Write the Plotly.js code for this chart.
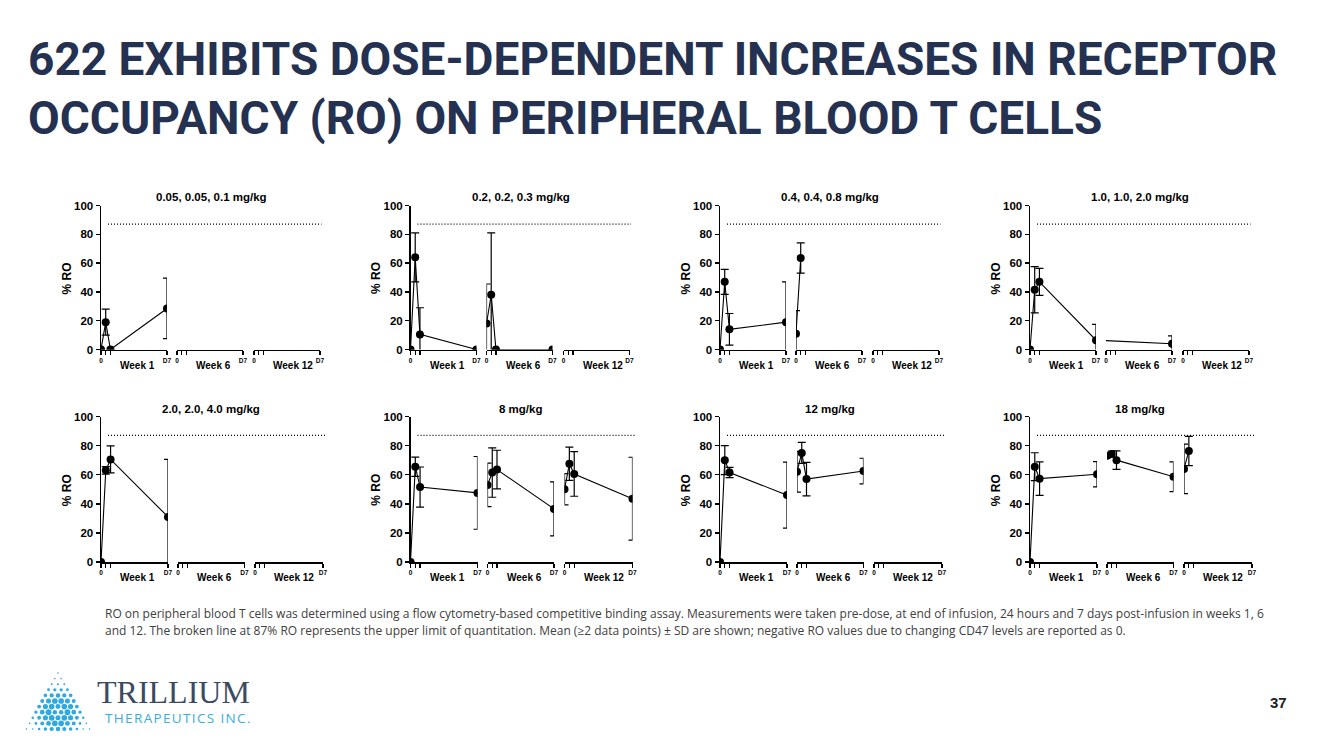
<!DOCTYPE html>
<html>
<head>
<meta charset="utf-8">
<script src="https://cdn.plot.ly/plotly-3.0.1.min.js"></script>
<style>html,body{margin:0;padding:0;background:#fff;}#chart{width:1333px;height:750px;}</style>
</head>
<body>
<div id="chart"></div>
<script>
// ---------------- DATA ----------------
const doseLabels = ['0.05, 0.05, 0.1 mg/kg', '0.2, 0.2, 0.3 mg/kg', '0.4, 0.4, 0.8 mg/kg', '1.0, 1.0, 2.0 mg/kg',
                    '2.0, 2.0, 4.0 mg/kg', '8 mg/kg', '12 mg/kg', '18 mg/kg'];
const weekLabels = ['Week 1', 'Week 6', 'Week 12'];
const sampleDays = [0, 0.5, 1, 7];          // pre-dose, end of infusion, 24 h, day 7
const dayTickText = ['0', '', '', 'D7'];
const yTicks = [0, 20, 40, 60, 80, 100];
const uloq = 87;                            // upper limit of quantitation (% RO)

// mean % RO; order: W1 (pre, EOI, 24h, D7), W6 (...), W12 (...)
const ro_005 = [0, 19, 0, 28.5,   null, null, null, null,   null, null, null, null];
const sd_005 = [0, 9, 0, 21,      0, 0, 0, 0,               0, 0, 0, 0];
const ro_02  = [0, 64, 10.5, 0,   18, 38, 0, 0,             null, null, null, null];
const sd_02  = [0, 17, 18.5, 0,   27.5, 43, 0, 0,           0, 0, 0, 0];
const ro_04  = [0, 47, 14, 19,    11, 63.5, null, null,     null, null, null, null];
const sd_04  = [0, 8.7, 11, 28,   16, 10.5, 0, 0,           0, 0, 0, 0];
const ro_1   = [0, 41.5, 47, 6.5, null, null, null, 4,      null, null, null, null];
const sd_1   = [0, 16, 9.4, 11,   0, 0, 0, 5.5,             0, 0, 0, 0];
const ro_2   = [0, 63, 70.5, 31,  null, null, null, null,   null, null, null, null];
const sd_2   = [0, 2.6, 9.3, 39.5, 0, 0, 0, 0,              0, 0, 0, 0];
const ro_8   = [0, 65.5, 51.5, 47.5, 53, 61.5, 63.5, 36.5,  50, 67.5, 60.5, 43.5];
const sd_8   = [0, 6.6, 13.8, 25,    15, 17, 13.3, 18.6,    10.7, 11.4, 15.3, 28.5];
const ro_12  = [0, 70, 61.5, 46,  62, 75, 57, 62.5,         null, null, null, null];
const sd_12  = [0, 10, 3.5, 22.7, 14, 7.2, 11.5, 8.8,       0, 0, 0, 0];
const ro_18  = [0, 65.5, 57.3, 60.3, 73, 74.3, 70, 58.6,    64, 76.3, null, null];
const sd_18  = [0, 9.6, 11.5, 8.7,   1.5, 2, 6.4, 10.2,     17, 10, 0, 0];

const meanSeries = [ro_005, ro_02, ro_04, ro_1, ro_2, ro_8, ro_12, ro_18];
const sdSeries   = [sd_005, sd_02, sd_04, sd_1, sd_2, sd_8, sd_12, sd_18];

// ---------------- LAYOUT GEOMETRY (px) ----------------
const W = 1333, H = 750;
const colX = [101, 410.5, 720, 1030];
const rowY = [[205.5, 349.5], [416.5, 562]];       // [y at 100, y at 0]
const segRel = [[[0, 66], [76, 142], [153, 219]],
                [[0, 67], [77, 143.5], [154, 222]]];
const ulLineRel = [[7, 220.5], [7, 226]];
const titleY = [197, 409];
const FONT = 'Liberation Sans, Arial, sans-serif';
const px = v => v / W;
const py = v => 1 - v / H;

const traces = [];
const layout = {
  width: W, height: H,
  margin: {l: 0, r: 0, t: 0, b: 0},
  paper_bgcolor: '#fff', plot_bgcolor: 'rgba(0,0,0,0)',
  showlegend: false,
  font: {family: FONT, color: '#000'},
  shapes: [], annotations: []
};

for (let p = 0; p < 8; p++) {
  const row = Math.floor(p / 4), col = p % 4;
  const x0 = colX[col];
  const segs = segRel[row];
  const mean = meanSeries[p], sd = sdSeries[p];
  const yName = 'y' + (p + 1);
  // collect measured points (screen-space position along panel)
  const pts = [];
  for (let s = 0; s < 3; s++) {
    const w = segs[s][1] - segs[s][0];
    for (let k = 0; k < 4; k++) {
      const v = mean[s * 4 + k];
      if (v === null || v === undefined) continue;
      pts.push({pxPos: x0 + segs[s][0] + sampleDays[k] * w / 7, y: v, e: sd[s * 4 + k]});
    }
  }
  // y axis
  layout['yaxis' + (p + 1)] = {
    domain: [py(rowY[row][1]), py(rowY[row][0])],
    range: [0, 100], anchor: 'x' + (p * 3 + 1),
    showline: true, linewidth: 1.5, linecolor: '#000',
    ticks: 'outside', ticklen: 4, tickwidth: 1.5, tickcolor: '#000',
    tickmode: 'array', tickvals: yTicks,
    tickfont: {family: FONT, size: 11.5, weight: 700, color: '#000'},
    showgrid: false, zeroline: false, fixedrange: true
  };
  for (let s = 0; s < 3; s++) {
    const n = p * 3 + s + 1;
    const a = x0 + segs[s][0], b = x0 + segs[s][1];
    const w = b - a;
    layout['xaxis' + n] = {
      domain: [px(a), px(b)], range: [0, 7], anchor: yName,
      showline: true, linewidth: 1.5, linecolor: '#000',
      ticks: 'outside', ticklen: 4, tickwidth: 1.2, tickcolor: '#000',
      tickmode: 'array', tickvals: sampleDays, ticktext: dayTickText,
      tickfont: {family: FONT, size: 6.5, weight: 700, color: '#000'},
      showgrid: false, zeroline: false, fixedrange: true
    };
    traces.push({
      type: 'scatter', mode: 'lines+markers',
      x: pts.map(q => (q.pxPos - a) * 7 / w),
      y: pts.map(q => q.y),
      error_y: {type: 'data', array: pts.map(q => q.e), visible: true, color: '#000', thickness: 1.2, width: 4},
      line: {color: '#000', width: 1.1},
      marker: {size: 8, color: '#000'},
      cliponaxis: true, hoverinfo: 'skip',
      xaxis: 'x' + n, yaxis: yName
    });
    layout.annotations.push({
      xref: 'x' + n + ' domain', yref: 'paper', x: 0, xanchor: 'left', xshift: 17,
      y: py(rowY[row][1] + 15.5), yanchor: 'middle', showarrow: false,
      text: weekLabels[s], font: {family: FONT, size: 10, weight: 700, color: '#000'}
    });
  }
  // ULOQ dotted line
  layout.shapes.push({
    type: 'line', xref: 'paper', yref: yName,
    x0: px(x0 + ulLineRel[row][0]), x1: px(x0 + ulLineRel[row][1]), y0: uloq, y1: uloq,
    line: {color: '#000', width: 1.2, dash: '1px,2px'}
  });
  // panel title
  layout.annotations.push({
    xref: 'paper', yref: 'paper', x: px(x0 + 110), y: py(titleY[row]),
    xanchor: 'center', yanchor: 'middle', showarrow: false, text: doseLabels[p],
    font: {family: FONT, size: 11.5, weight: 700, color: '#000'}
  });
  // y-axis title
  layout.annotations.push({
    xref: 'paper', yref: 'paper', x: px(x0 - 34), y: py((rowY[row][0] + rowY[row][1]) / 2 + 1),
    xanchor: 'center', yanchor: 'middle', showarrow: false, textangle: -90, text: '% RO',
    font: {family: FONT, size: 12, weight: 700, color: '#000'}
  });
}

// ---------------- PAGE TEXT ----------------
const headLines = ['622 EXHIBITS DOSE-DEPENDENT INCREASES IN RECEPTOR', 'OCCUPANCY (RO) ON PERIPHERAL BLOOD T CELLS'];
const headY = [59, 117.5];
headLines.forEach((t, i) => layout.annotations.push({
  xref: 'paper', yref: 'paper', x: px(26), y: py(headY[i]), xanchor: 'left', yanchor: 'middle',
  showarrow: false, text: t, font: {family: 'Roboto, sans-serif', size: 46, weight: 700, color: '#243150'}
}));
const noteLines = [
  'RO on peripheral blood T cells was determined using a flow cytometry-based competitive binding assay. Measurements were taken pre-dose, at end of infusion, 24 hours and 7 days post-infusion in weeks 1, 6',
  'and 12. The broken line at 87% RO represents the upper limit of quantitation. Mean (≥2 data points) ± SD are shown; negative RO values due to changing CD47 levels are reported as 0.'
];
const noteY = [613, 630];
noteLines.forEach((t, i) => layout.annotations.push({
  xref: 'paper', yref: 'paper', x: px(103), y: py(noteY[i]), xanchor: 'left', yanchor: 'middle',
  showarrow: false, text: t, font: {family: 'Open Sans, sans-serif', size: 12, color: '#404040'}
}));
layout.annotations.push({
  xref: 'paper', yref: 'paper', x: px(1278), y: py(702), xanchor: 'center', yanchor: 'middle',
  showarrow: false, text: '37', font: {family: FONT, size: 15, weight: 700, color: '#222'}
});
// logo text
layout.annotations.push({
  xref: 'paper', yref: 'paper', x: px(95), y: py(692), xanchor: 'left', yanchor: 'middle',
  showarrow: false, text: 'TRILLIUM', font: {family: 'Liberation Serif, serif', size: 32, color: '#3b4a63'}
});
layout.annotations.push({
  xref: 'paper', yref: 'paper', x: px(103), y: py(718), xanchor: 'left', yanchor: 'middle',
  showarrow: false, text: 'THERAPEUTICS INC.'.split('').join('\u200A'),
  font: {family: 'Open Sans, sans-serif', size: 13.5, color: '#36ade3'}
});
// logo dots (decorative triangle)
const apex = [58, 673], nRows = 11, dy = 5.6, dx = 6.3, cen = [58, 712];
for (let i = 0; i < nRows; i++) {
  for (let j = 0; j <= i; j++) {
    const cx = apex[0] + (j - i / 2) * dx, cy = apex[1] + i * dy;
    const d = Math.hypot(cx - cen[0], cy - cen[1]);
    const r = Math.max(0.8, 3.0 - Math.abs(d - 10) * 0.11);
    layout.shapes.push({type: 'circle', xref: 'paper', yref: 'paper',
      x0: px(cx - r), x1: px(cx + r), y0: py(cy + r), y1: py(cy - r),
      line: {width: 0}, fillcolor: '#2ea9e1'});
  }
}

Plotly.newPlot('chart', traces, layout, {staticPlot: true, displayModeBar: false});
</script>
</body>
</html>
